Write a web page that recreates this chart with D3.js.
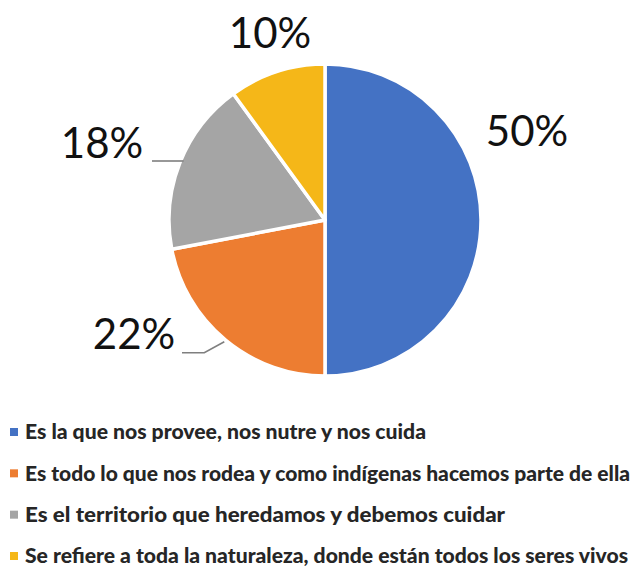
<!doctype html>
<html>
  <head>
    <meta charset="utf-8">
    <title>Pie with D3</title>
    <script src="https://cdnjs.cloudflare.com/ajax/libs/d3/7.8.5/d3.min.js"></script>
    <style>
      body { margin: 0; background: #fff; }
      svg { display: block; }
    </style>
  </head>
  <body>
    <div id="chart"></div>
    <script>
      // data
      const categories = [
        'Es la que nos provee, nos nutre y nos cuida',
        'Es todo lo que nos rodea y como indígenas hacemos parte de ella',
        'Es el territorio que heredamos y debemos cuidar',
        'Se refiere a toda la naturaleza, donde están todos los seres vivos'
      ];
      const values = [50, 22, 18, 10];
      const colors = ['#4472C4', '#ED7D31', '#A5A5A5', '#F5B718'];

      // where each label sits, relative to the pie centre
      const labelOffsets = [[202, -89], [-191, 114], [-223, -77], [-55, -187]];
      const legendWidths = [401, 605, 480, 603];

      const W = 636, H = 569;
      const cx = 325, cy = 220, R = 156;

      const svg = d3.select('#chart').append('svg')
        .attr('width', W).attr('height', H);

      const pie = d3.pie().sort(null).value(d => d)(values);
      const arc = d3.arc().innerRadius(0).outerRadius(R);

      const g = svg.append('g').attr('transform', `translate(${cx},${cy})`);

      g.selectAll('path.slice')
        .data(pie)
        .join('path')
        .attr('class', 'slice')
        .attr('d', arc)
        .attr('fill', (d, i) => colors[i])
        .attr('stroke', '#fff')
        .attr('stroke-width', 3.5)
        .attr('stroke-linejoin', 'round');

      // percent labels
      g.selectAll('text.pct')
        .data(pie)
        .join('text')
        .attr('class', 'pct')
        .attr('x', (d, i) => labelOffsets[i][0])
        .attr('y', (d, i) => labelOffsets[i][1])
        .attr('dy', '0.36em')
        .attr('text-anchor', 'middle')
        .style('font-family', 'Lato, "Open Sans", sans-serif')
        .style('font-size', '42px')
        .style('fill', '#111')
        .text(d => d.value + '%');

      // leader lines for the two left labels
      const leader = d3.line();
      const gy = labelOffsets[2][1] + 18;
      const gx = -Math.sqrt(R * R - gy * gy);
      const orange = pie[1];
      const oa = (orange.startAngle + orange.endAngle) / 2;
      const oEdge = [(R + 2) * Math.sin(oa), -(R + 2) * Math.cos(oa)];
      const oy = oEdge[1] + 11;
      g.append('path')
        .attr('d', leader([[labelOffsets[2][0] + 50, gy], [gx + 3, gy]]))
        .attr('fill', 'none').attr('stroke', '#7f7f7f').attr('stroke-width', 1.6);
      g.append('path')
        .attr('d', leader([[labelOffsets[1][0] + 48, oy], [oEdge[0] - 20, oy], oEdge]))
        .attr('fill', 'none').attr('stroke', '#7f7f7f').attr('stroke-width', 1.6);

      // legend
      const y = d3.scalePoint().domain(d3.range(categories.length)).range([432, 556]);
      const leg = svg.append('g').selectAll('g')
        .data(categories)
        .join('g')
        .attr('transform', (d, i) => `translate(0,${y(i)})`);

      leg.append('rect')
        .attr('x', 10).attr('y', -4).attr('width', 8).attr('height', 8)
        .attr('fill', (d, i) => colors[i]);

      leg.append('text')
        .attr('x', 25)
        .attr('dy', '0.36em')
        .attr('textLength', (d, i) => legendWidths[i])
        .attr('lengthAdjust', 'spacingAndGlyphs')
        .style('font-family', 'Lato, "Open Sans", sans-serif')
        .style('font-weight', '900')
        .style('font-size', '20px')
        .style('fill', '#262626')
        .text(d => d);
    </script>
  </body>
</html>
